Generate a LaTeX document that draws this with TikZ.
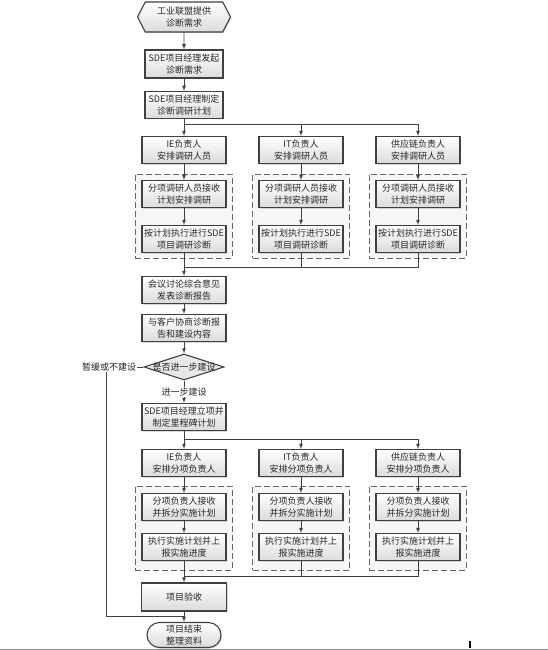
\documentclass[tikz,border=0pt]{standalone}
\usepackage{fontspec}
\newfontfamily\cjk{Noto Sans CJK SC}
\usetikzlibrary{arrows,shapes.geometric,shapes.symbols,shapes.misc,shadows}
\definecolor{edge}{HTML}{404040}
\definecolor{grpfill}{HTML}{F6F6F6}

\begin{document}
\begin{tikzpicture}[x=1pt, y=-1pt, >=latex,
		font=\cjk\fontsize{9}{12}\selectfont, text=black!85,
		box/.style={draw=edge, line width=1.1pt, top color=white, bottom color=black!14, align=center, minimum width=84, minimum height=27, inner sep=1pt, drop shadow={shadow xshift=1pt, shadow yshift=-1pt, opacity=0.3}},
		start/.style={box, shape=signal, signal to=west and east, signal pointer angle=125, minimum width=93, minimum height=30},
		term/.style={box, shape=rounded rectangle, minimum width=76, minimum height=25},
		decision/.style={draw=edge, line width=1.1pt, fill=black!9, shape=diamond, inner sep=0pt, minimum width=80, minimum height=26},
		grp/.style={draw=black!60, dash pattern=on 6pt off 3pt, line width=1pt, fill=grpfill, minimum width=97, minimum height=84},
		tag/.style={fill=white, inner sep=1pt},
		conn/.style={draw=edge, line width=0.8pt}]
			\useasboundingbox (0,0) rectangle (548,650);
			\node[grp] (g1) at (183.5,216) {};
			\node[grp] (g2) at (301,216) {};
			\node[grp] (g3) at (417.5,216) {};
			\node[grp] (g4) at (183.5,528) {};
			\node[grp] (g5) at (301,528) {};
			\node[grp] (g6) at (417.5,528) {};
			\node[start] (s) at (184,17) {工业联盟提供\\诊断需求};
			\node[box, minimum width=78, minimum height=28] (req) at (184,64) {SDE项目经理发起\\诊断需求};
			\node[box, minimum width=78] (pl) at (184,105) {SDE项目经理制定\\诊断调研计划};
			\node[box] (ie1) at (184,150) {IE负责人\\安排调研人员};
			\node[box] (it1) at (301,150) {IT负责人\\安排调研人员};
			\node[box] (sc1) at (418,150) {供应链负责人\\安排调研人员};
			\node[box] (ie2) at (184,194) {分项调研人员接收\\计划安排调研};
			\node[box] (it2) at (301,194) {分项调研人员接收\\计划安排调研};
			\node[box] (sc2) at (418,194) {分项调研人员接收\\计划安排调研};
			\node[box] (ie3) at (184,239) {按计划执行进行SDE\\项目调研诊断};
			\node[box] (it3) at (301,239) {按计划执行进行SDE\\项目调研诊断};
			\node[box] (sc3) at (418,239) {按计划执行进行SDE\\项目调研诊断};
			\node[box] (mt) at (184,290) {会议讨论综合意见\\发表诊断报告};
			\node[box] (ng) at (184,328) {与客户协商诊断报\\告和建设内容};
			\node[decision, label={center:是否进一步建设}] (dec) at (184,367) {};
			\node[tag] (hold) at (109,367) {暂缓或不建设};
			\node[box] (pj) at (184,417) {SDE项目经理立项并\\制定里程碑计划};
			\node[box] (ie4) at (184,463) {IE负责人\\安排分项负责人};
			\node[box] (it4) at (301,463) {IT负责人\\安排分项负责人};
			\node[box] (sc4) at (418,463) {供应链负责人\\安排分项负责人};
			\node[box] (ie5) at (184,507) {分项负责人接收\\并拆分实施计划};
			\node[box] (it5) at (301,507) {分项负责人接收\\并拆分实施计划};
			\node[box] (sc5) at (418,507) {分项负责人接收\\并拆分实施计划};
			\node[box] (ie6) at (184,547) {执行实施计划并上\\报实施进度};
			\node[box] (it6) at (301,547) {执行实施计划并上\\报实施进度};
			\node[box] (sc6) at (418,547) {执行实施计划并上\\报实施进度};
			\node[box, minimum width=85, minimum height=28] (acc) at (184,597) {项目验收};
			\node[term] (end) at (184,635) {项目结束\\整理资料};
			\coordinate (b1) at (184,124);
			\coordinate (m1) at (184,267);
			\coordinate (b2) at (184,439);
			\coordinate (m2) at (184,576);
			\coordinate (rt) at (106,616);
			\coordinate (jn) at (184,616);
			\draw[conn, ->] (s) -- (req);
			\draw[conn, ->] (req) -- (pl);
			\draw[conn, ->] (pl) -- (ie1);
			\draw[conn, ->] (b1) -| (it1);
			\draw[conn, ->] (b1) -| (sc1);
			\draw[conn, ->] (ie1) -- (ie2);
			\draw[conn, ->] (it1) -- (it2);
			\draw[conn, ->] (sc1) -- (sc2);
			\draw[conn, ->] (ie2) -- (ie3);
			\draw[conn, ->] (it2) -- (it3);
			\draw[conn, ->] (sc2) -- (sc3);
			\draw[conn] (it3) |- (m1);
			\draw[conn] (sc3) |- (m1);
			\draw[conn, ->] (ie3) -- (mt);
			\draw[conn, ->] (mt) -- (ng);
			\draw[conn, ->] (ng) -- (dec);
			\draw[conn, ->] (dec) -- node[tag] {进一步建设} (pj);
			\draw[conn] (dec) -- (hold);
			\draw[conn] (hold.south -| rt) |- (jn);
			\draw[conn, ->] (pj) -- (ie4);
			\draw[conn, ->] (b2) -| (it4);
			\draw[conn, ->] (b2) -| (sc4);
			\draw[conn, ->] (ie4) -- (ie5);
			\draw[conn, ->] (it4) -- (it5);
			\draw[conn, ->] (sc4) -- (sc5);
			\draw[conn, ->] (ie5) -- (ie6);
			\draw[conn, ->] (it5) -- (it6);
			\draw[conn, ->] (sc5) -- (sc6);
			\draw[conn] (it6) |- (m2);
			\draw[conn] (sc6) |- (m2);
			\draw[conn, ->] (ie6) -- (acc);
			\draw[conn, ->] (acc) -- (end);
			\draw[black!45, line width=1pt] (0,649) -- (548,649);
			\draw[black, line width=1.2pt] (470,641) -- (470,648);
		\end{tikzpicture}
\end{document}
